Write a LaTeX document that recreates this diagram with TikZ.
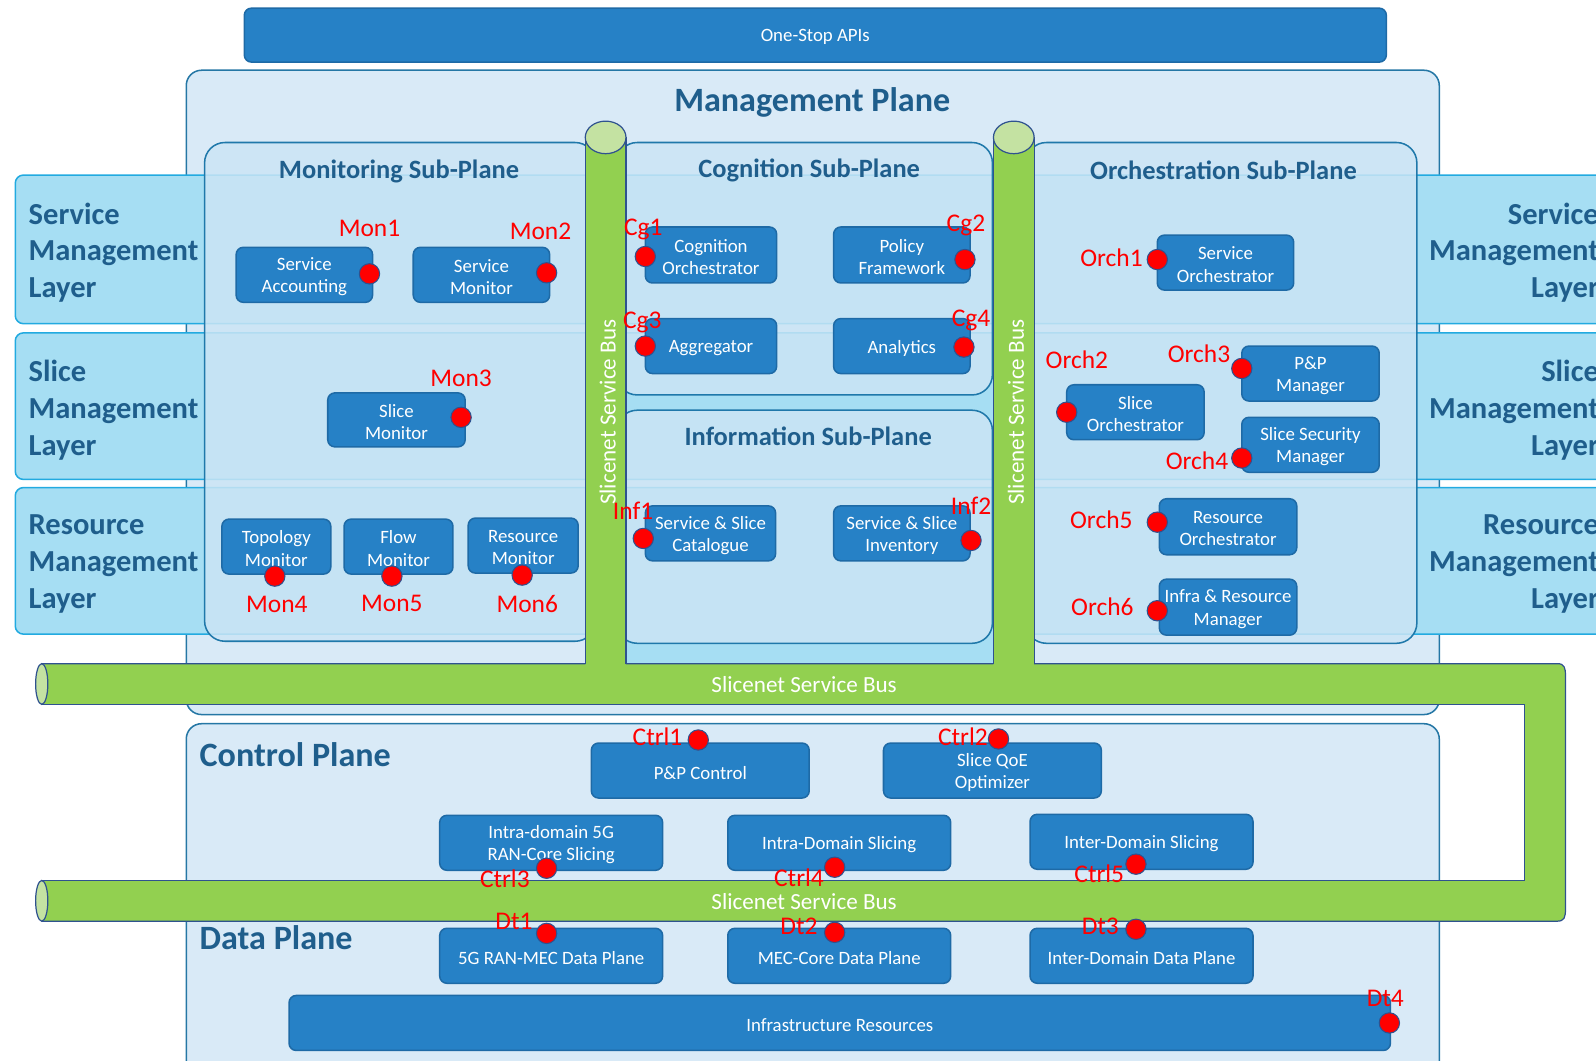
\documentclass[tikz,border=0pt]{standalone}
\usepackage{fontspec}
\setmainfont{Carlito}
\definecolor{nodeblue}{HTML}{2681C6}
\definecolor{nodeedge}{HTML}{1E6AA6}
\definecolor{planefill}{HTML}{D9EAF7}
\definecolor{planeedge}{HTML}{2577A5}
\definecolor{subfill}{HTML}{CBE5F5}
\definecolor{subedge}{HTML}{1F78AA}
\definecolor{layerfill}{HTML}{A6DEF3}
\definecolor{layeredge}{HTML}{22AAE0}
\definecolor{titleblue}{HTML}{1F5E8C}
\definecolor{busgreen}{HTML}{92D050}
\definecolor{buscap}{HTML}{C4E2A2}
\definecolor{busedge}{HTML}{2F528F}

% a blue component box given by name, centre, width, height and text
\newcommand\blockat[6]{%
  \node[blk, minimum width=#4pt, minimum height=#5pt] (#1) at (#2,#3) {};
  \node[blktxt] (#1txt) at ([yshift=-2pt]#1.center) {#6};}
% a red interface point with its tag
\newcommand\portat[5]{\node[reddot] (#1) at (#2,#3) {}; \node[redlab] (#1tag) at (#4,#5) {#1};}

\begin{document}
\begin{tikzpicture}[x=1pt,y=-1pt,
  blk/.style={draw=nodeedge, line width=1.5pt, fill=nodeblue, rounded corners=7pt, inner sep=0pt},
  blktxt/.style={text=white, align=center, inner sep=0pt, font=\fontsize{18.5}{22}\selectfont},
  reddot/.style={circle, draw=busedge, line width=1pt, fill=red, minimum size=20pt, inner sep=0pt},
  redlab/.style={text=red, inner sep=0pt, font=\fontsize{25}{28}\selectfont},
  planebox/.style={draw=planeedge, line width=1.5pt, fill=planefill, rounded corners=15pt},
  subplane/.style={draw=subedge, line width=1.5pt, fill=subfill, fill opacity=0.85, rounded corners=20pt},
  layerband/.style={draw=layeredge, line width=1.5pt, fill=layerfill, rounded corners=8pt},
  layertxt/.style={text=titleblue, inner sep=0pt, font=\fontsize{30}{36}\selectfont\bfseries},
  subtitle/.style={text=titleblue, inner sep=0pt, font=\fontsize{26}{30}\selectfont\bfseries},
  planetitle/.style={text=titleblue, inner sep=0pt, font=\fontsize{33.5}{38}\selectfont\bfseries},
  bustxt/.style={text=white, inner sep=0pt, font=\fontsize{22.7}{26}\selectfont},
  busline/.style={draw=busedge, line width=1.2pt}]
\useasboundingbox (0,0) rectangle (1568,1042);
\clip (0,0) rectangle (1568,1042);

% ---------- management plane and its horizontal layers ----------
\draw[planebox] (183,69) rectangle (1414,702);
\draw[layerband] (15,172) rectangle (1640,318);
\draw[layerband] (15,327) rectangle (1640,471);
\draw[layerband] (15,479) rectangle (1640,623);
\fill[layerfill] (615,600) rectangle (976,652);

\node[layertxt, anchor=west, align=left] (lsl) at (28,248) {Service\\Management\\Layer};
\node[layertxt, anchor=west, align=left] (lml) at (28,403) {Slice\\Management\\Layer};
\node[layertxt, anchor=west, align=left] (lrl) at (28,554) {Resource\\Management\\Layer};
\node[layertxt, anchor=east, align=right] (rsl) at (1571,248) {Service\\Management\\Layer};
\node[layertxt, anchor=east, align=right] (rml) at (1571,403) {Slice\\Management\\Layer};
\node[layertxt, anchor=east, align=right] (rrl) at (1571,554) {Resource\\Management\\Layer};

% ---------- sub-planes ----------
\draw[subplane] (201,140) rectangle (585,630);
\draw[subplane] (606,140) rectangle (975,388);
\draw[subplane] (606,403) rectangle (975,632);
\draw[subplane] (1008,140) rectangle (1392,632);

\node[planetitle] (mptitle) at (798,101) {Management Plane};
\node[subtitle] (montitle) at (392,168) {Monitoring Sub-Plane};
\node[subtitle] (cogtitle) at (795,167) {Cognition Sub-Plane};
\node[subtitle] (inftitle) at (794,429) {Information Sub-Plane};
\node[subtitle] (orctitle) at (1202,167) {Orchestration Sub-Plane};

% ---------- control / data plane ----------
\draw[planebox] (183,711) rectangle (1414,1080);
\node[planetitle, anchor=west] (cptitle) at (196,741) {Control Plane};
\node[planetitle, anchor=west] (dptitle) at (196,921) {Data Plane};

% ---------- Slicenet service bus ----------
\fill[busgreen] (41,652) rectangle (1532,692);
\fill[busgreen] (1498,652) rectangle (1532,905);
\fill[busgreen] (41,865) rectangle (1532,905);
\fill[busgreen] (1530,652) .. controls (1537,652) and (1538,656) .. (1538,664)
  -- (1538,893) .. controls (1538,901) and (1537,905) .. (1530,905) -- cycle;
\fill[busgreen] (575,135) rectangle (615,660);
\fill[busgreen] (976,135) rectangle (1016,660);

\draw[busline] (41,652) -- (575,652) (615,652) -- (976,652)
  (1016,652) -- (1530,652) .. controls (1537,652) and (1538,656) .. (1538,664)
  -- (1538,893) .. controls (1538,901) and (1537,905) .. (1530,905) -- (41,905);
\draw[busline] (41,692) -- (1498,692) -- (1498,865) -- (41,865);
\draw[busline] (575,135) -- (575,652) (615,135) -- (615,652);
\draw[busline] (976,135) -- (976,652) (1016,135) -- (1016,652);
\draw[busline, fill=buscap] (595,135) ellipse [x radius=20, y radius=16];
\draw[busline, fill=buscap] (996,135) ellipse [x radius=20, y radius=16];
\draw[busline, fill=buscap] (41,672) ellipse [x radius=6, y radius=20];
\draw[busline, fill=buscap] (41,885) ellipse [x radius=6, y radius=20];

\node[bustxt] (bus1txt) at (790,673) {Slicenet Service Bus};
\node[bustxt] (bus2txt) at (790,886) {Slicenet Service Bus};
\node[bustxt, rotate=90] (busltxt) at (597,405) {Slicenet Service Bus};
\node[bustxt, rotate=90] (busrtxt) at (998,405) {Slicenet Service Bus};

% ---------- components ----------
\blockat{apis}{801}{34.5}{1122}{53}{One-Stop APIs}

\blockat{sacc}{299}{270}{134}{54}{Service\\Accounting}
\blockat{smon}{473}{270}{134}{54}{Service\\Monitor}
\blockat{slmon}{389.5}{412.5}{135}{53}{Slice\\Monitor}
\blockat{topo}{271.5}{537}{107}{54}{Topology\\Monitor}
\blockat{flow}{391.5}{537}{107}{54}{Flow\\Monitor}
\blockat{resmon}{514}{536}{108}{54}{Resource\\Monitor}

\blockat{cgorch}{698.5}{250.5}{129}{55}{Cognition\\Orchestrator}
\blockat{policy}{886}{250.5}{134}{55}{Policy\\Framework}
\blockat{aggr}{698.5}{340}{129}{54}{Aggregator}
\blockat{analytics}{886}{340}{134}{54}{Analytics}
\blockat{catalogue}{698}{524}{128}{54}{Service \& Slice\\Catalogue}
\blockat{inventory}{886}{524}{134}{54}{Service \& Slice\\Inventory}

\blockat{sorch}{1204}{258}{134}{54}{Service\\Orchestrator}
\blockat{ppman}{1287.5}{367}{135}{54}{P\&P\\Manager}
\blockat{slorch}{1115.5}{405}{135}{54}{Slice\\Orchestrator}
\blockat{secman}{1287.5}{437}{135}{54}{Slice Security\\Manager}
\blockat{rorch}{1206.5}{517.5}{135}{55}{Resource\\Orchestrator}
\blockat{inframan}{1206.5}{596.5}{135}{55}{Infra \& Resource\\Manager}

\blockat{ppctl}{688}{757}{214}{54}{P\&P Control}
\blockat{qoe}{975}{757}{214}{54}{Slice QoE\\Optimizer}
\blockat{intra5g}{541.5}{828}{219}{54}{Intra-domain 5G\\RAN-Core Slicing}
\blockat{intrads}{824.5}{828}{219}{54}{Intra-Domain Slicing}
\blockat{interds}{1121.5}{827}{219}{54}{Inter-Domain Slicing}
\blockat{ranmec}{541.5}{939}{219}{54}{5G RAN-MEC Data Plane}
\blockat{meccore}{824.5}{939}{219}{54}{MEC-Core Data Plane}
\blockat{interdp}{1121.5}{939}{219}{54}{Inter-Domain Data Plane}
\blockat{infra}{825}{1005}{1082}{54}{Infrastructure Resources}

% ---------- interface points ----------
\portat{Mon1}{363}{269}{363}{224}
\portat{Mon2}{537}{268}{531}{227}
\portat{Mon3}{453}{410}{453}{372}
\portat{Mon4}{270}{566}{272}{594}
\portat{Mon5}{385}{566}{385}{593}
\portat{Mon6}{513}{565}{518}{593}
\portat{Cg1}{634}{252}{632}{225}
\portat{Cg2}{948}{255}{949}{221}
\portat{Cg3}{634}{340}{631}{317}
\portat{Cg4}{947}{341}{954}{315}
\portat{Inf1}{632}{529}{622}{502}
\portat{Inf2}{954}{531}{954}{497}
\portat{Orch1}{1137}{255}{1092}{253}
\portat{Orch2}{1048}{405}{1058}{353}
\portat{Orch3}{1220}{362}{1178}{348}
\portat{Orch4}{1220}{450}{1176}{453}
\portat{Orch5}{1137}{513}{1082}{511}
\portat{Orch6}{1137}{600}{1083}{596}
\portat{Ctrl1}{686}{727}{646}{724}
\portat{Ctrl2}{981}{726}{946}{724}
\portat{Ctrl3}{537}{853}{496}{863}
\portat{Ctrl4}{820}{852}{785}{862}
\portat{Ctrl5}{1116}{849}{1080}{858}
\portat{Dt1}{537}{917}{505}{905}
\portat{Dt2}{820}{916}{785}{910}
\portat{Dt3}{1116}{913}{1081}{910}
\portat{Dt4}{1365}{1005}{1361}{981}
\end{tikzpicture}
\end{document}
